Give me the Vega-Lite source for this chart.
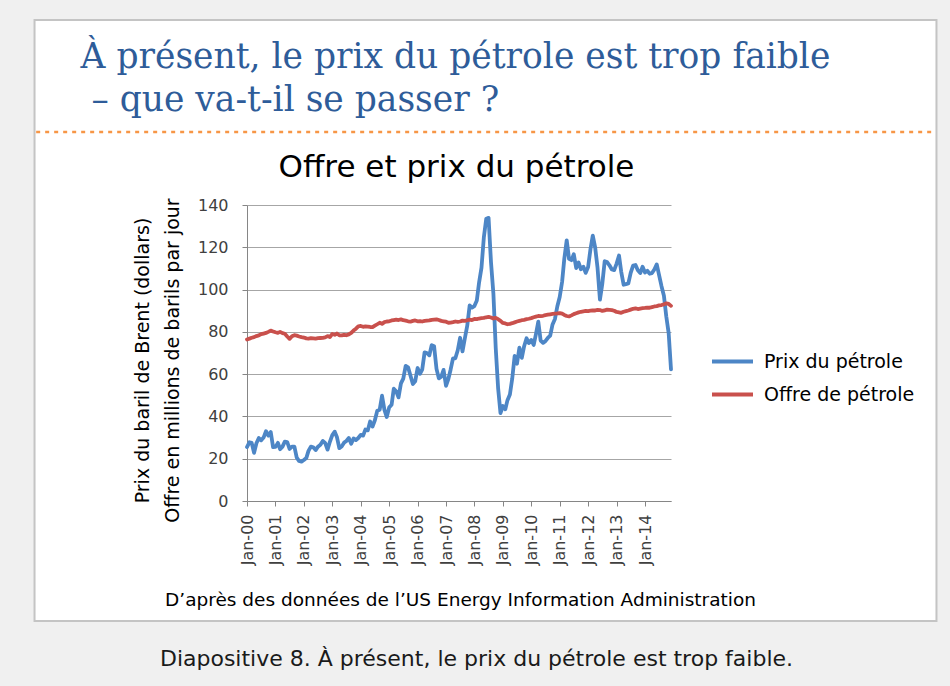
{
  "$schema": "https://vega.github.io/schema/vega-lite/v6.json",
  "width": 424,
  "height": 296,
  "autosize": {"type": "none"},
  "padding": {"left": 247, "top": 205, "right": 279, "bottom": 185},
  "background": "white",
  "config": {
    "view": {"stroke": null},
    "font": "DejaVu Sans",
    "legend": {
      "orient": "none",
      "legendX": 463,
      "legendY": 134,
      "title": null,
      "labelFont": "DejaVu Sans",
      "labelFontSize": 19,
      "labelColor": "#000000",
      "symbolType": "stroke",
      "symbolStrokeWidth": 4,
      "symbolSize": 1681,
      "labelOffset": 9,
      "rowPadding": 0,
      "labelLimit": 400
    }
  },
  "data": {
    "values": [
      {"d": "2000-01", "p": 25.5, "o": 76.4}, {"d": "2000-02", "p": 27.8, "o": 76.8}, {"d": "2000-03", "p": 27.5, "o": 77.2}, {"d": "2000-04", "p": 22.8, "o": 77.5}, {"d": "2000-05", "p": 27.3, "o": 78.0}, {"d": "2000-06", "p": 29.8, "o": 78.3}, {"d": "2000-07", "p": 28.7, "o": 78.9}, {"d": "2000-08", "p": 30.0, "o": 79.2}, {"d": "2000-09", "p": 33.0, "o": 79.5}, {"d": "2000-10", "p": 30.9, "o": 80.0}, {"d": "2000-11", "p": 32.6, "o": 80.6}, {"d": "2000-12", "p": 25.5, "o": 80.2},
      {"d": "2001-01", "p": 25.6, "o": 79.8}, {"d": "2001-02", "p": 27.5, "o": 79.5}, {"d": "2001-03", "p": 24.5, "o": 80.0}, {"d": "2001-04", "p": 25.7, "o": 79.4}, {"d": "2001-05", "p": 28.1, "o": 79.1}, {"d": "2001-06", "p": 27.9, "o": 77.8}, {"d": "2001-07", "p": 24.6, "o": 76.7}, {"d": "2001-08", "p": 25.7, "o": 77.9}, {"d": "2001-09", "p": 25.7, "o": 78.4}, {"d": "2001-10", "p": 20.5, "o": 78.2}, {"d": "2001-11", "p": 18.9, "o": 77.8}, {"d": "2001-12", "p": 18.6, "o": 77.5},
      {"d": "2002-01", "p": 19.4, "o": 77.3}, {"d": "2002-02", "p": 20.3, "o": 76.9}, {"d": "2002-03", "p": 23.7, "o": 76.8}, {"d": "2002-04", "p": 25.7, "o": 77.0}, {"d": "2002-05", "p": 25.4, "o": 76.9}, {"d": "2002-06", "p": 24.1, "o": 76.8}, {"d": "2002-07", "p": 25.7, "o": 77.0}, {"d": "2002-08", "p": 26.6, "o": 77.1}, {"d": "2002-09", "p": 28.4, "o": 77.2}, {"d": "2002-10", "p": 27.5, "o": 77.4}, {"d": "2002-11", "p": 24.3, "o": 78.0}, {"d": "2002-12", "p": 28.0, "o": 77.5},
      {"d": "2003-01", "p": 31.2, "o": 79.0}, {"d": "2003-02", "p": 32.8, "o": 78.6}, {"d": "2003-03", "p": 30.3, "o": 79.2}, {"d": "2003-04", "p": 25.0, "o": 78.4}, {"d": "2003-05", "p": 25.8, "o": 78.3}, {"d": "2003-06", "p": 27.6, "o": 78.6}, {"d": "2003-07", "p": 28.4, "o": 78.4}, {"d": "2003-08", "p": 29.8, "o": 78.8}, {"d": "2003-09", "p": 27.1, "o": 79.5}, {"d": "2003-10", "p": 29.6, "o": 80.6}, {"d": "2003-11", "p": 28.8, "o": 81.5}, {"d": "2003-12", "p": 29.8, "o": 82.6},
      {"d": "2004-01", "p": 31.3, "o": 82.8}, {"d": "2004-02", "p": 30.9, "o": 82.4}, {"d": "2004-03", "p": 33.8, "o": 82.6}, {"d": "2004-04", "p": 33.4, "o": 82.5}, {"d": "2004-05", "p": 37.6, "o": 82.3}, {"d": "2004-06", "p": 35.2, "o": 82.2}, {"d": "2004-07", "p": 38.2, "o": 82.9}, {"d": "2004-08", "p": 42.7, "o": 83.6}, {"d": "2004-09", "p": 43.2, "o": 84.3}, {"d": "2004-10", "p": 49.8, "o": 83.8}, {"d": "2004-11", "p": 43.1, "o": 84.6}, {"d": "2004-12", "p": 39.7, "o": 84.9},
      {"d": "2005-01", "p": 44.3, "o": 85.0}, {"d": "2005-02", "p": 45.5, "o": 85.4}, {"d": "2005-03", "p": 53.1, "o": 85.6}, {"d": "2005-04", "p": 51.9, "o": 85.8}, {"d": "2005-05", "p": 49.0, "o": 85.6}, {"d": "2005-06", "p": 55.6, "o": 85.9}, {"d": "2005-07", "p": 57.9, "o": 85.5}, {"d": "2005-08", "p": 63.9, "o": 85.3}, {"d": "2005-09", "p": 63.2, "o": 85.0}, {"d": "2005-10", "p": 59.4, "o": 84.8}, {"d": "2005-11", "p": 55.3, "o": 85.2}, {"d": "2005-12", "p": 56.6, "o": 85.4},
      {"d": "2006-01", "p": 62.9, "o": 85.0}, {"d": "2006-02", "p": 60.2, "o": 85.1}, {"d": "2006-03", "p": 62.1, "o": 84.9}, {"d": "2006-04", "p": 70.3, "o": 85.2}, {"d": "2006-05", "p": 70.0, "o": 85.3}, {"d": "2006-06", "p": 68.9, "o": 85.4}, {"d": "2006-07", "p": 73.7, "o": 85.7}, {"d": "2006-08", "p": 73.2, "o": 85.8}, {"d": "2006-09", "p": 62.5, "o": 85.9}, {"d": "2006-10", "p": 58.0, "o": 85.6}, {"d": "2006-11", "p": 58.8, "o": 85.2}, {"d": "2006-12", "p": 62.0, "o": 85.0},
      {"d": "2007-01", "p": 54.5, "o": 84.8}, {"d": "2007-02", "p": 57.8, "o": 84.3}, {"d": "2007-03", "p": 62.1, "o": 84.4}, {"d": "2007-04", "p": 67.5, "o": 84.6}, {"d": "2007-05", "p": 67.5, "o": 84.9}, {"d": "2007-06", "p": 71.3, "o": 84.7}, {"d": "2007-07", "p": 77.2, "o": 84.9}, {"d": "2007-08", "p": 70.8, "o": 85.3}, {"d": "2007-09", "p": 77.1, "o": 85.2}, {"d": "2007-10", "p": 82.9, "o": 85.5}, {"d": "2007-11", "p": 92.5, "o": 85.8}, {"d": "2007-12", "p": 91.5, "o": 85.6},
      {"d": "2008-01", "p": 92.2, "o": 86.1}, {"d": "2008-02", "p": 94.8, "o": 86.0}, {"d": "2008-03", "p": 103.3, "o": 86.3}, {"d": "2008-04", "p": 110.4, "o": 86.5}, {"d": "2008-05", "p": 124.6, "o": 86.6}, {"d": "2008-06", "p": 133.5, "o": 86.9}, {"d": "2008-07", "p": 133.9, "o": 87.1}, {"d": "2008-08", "p": 113.0, "o": 86.8}, {"d": "2008-09", "p": 98.1, "o": 86.3}, {"d": "2008-10", "p": 72.3, "o": 86.6}, {"d": "2008-11", "p": 53.2, "o": 86.0}, {"d": "2008-12", "p": 41.6, "o": 85.2},
      {"d": "2009-01", "p": 44.9, "o": 84.2}, {"d": "2009-02", "p": 43.4, "o": 84.0}, {"d": "2009-03", "p": 47.7, "o": 83.6}, {"d": "2009-04", "p": 50.4, "o": 83.8}, {"d": "2009-05", "p": 57.9, "o": 84.1}, {"d": "2009-06", "p": 68.6, "o": 84.5}, {"d": "2009-07", "p": 64.9, "o": 84.9}, {"d": "2009-08", "p": 72.5, "o": 85.2}, {"d": "2009-09", "p": 67.7, "o": 85.5}, {"d": "2009-10", "p": 73.2, "o": 85.7}, {"d": "2009-11", "p": 77.0, "o": 86.0}, {"d": "2009-12", "p": 74.7, "o": 86.2},
      {"d": "2010-01", "p": 76.2, "o": 86.5}, {"d": "2010-02", "p": 73.8, "o": 86.9}, {"d": "2010-03", "p": 78.8, "o": 87.2}, {"d": "2010-04", "p": 84.8, "o": 87.5}, {"d": "2010-05", "p": 75.9, "o": 87.4}, {"d": "2010-06", "p": 74.8, "o": 87.6}, {"d": "2010-07", "p": 75.6, "o": 87.9}, {"d": "2010-08", "p": 77.1, "o": 88.1}, {"d": "2010-09", "p": 78.2, "o": 88.3}, {"d": "2010-10", "p": 83.5, "o": 88.5}, {"d": "2010-11", "p": 86.1, "o": 88.6}, {"d": "2010-12", "p": 92.0, "o": 88.7},
      {"d": "2011-01", "p": 96.5, "o": 88.9}, {"d": "2011-02", "p": 103.7, "o": 88.6}, {"d": "2011-03", "p": 114.6, "o": 88.0}, {"d": "2011-04", "p": 123.3, "o": 87.5}, {"d": "2011-05", "p": 114.5, "o": 87.3}, {"d": "2011-06", "p": 113.9, "o": 87.8}, {"d": "2011-07", "p": 116.7, "o": 88.4}, {"d": "2011-08", "p": 110.2, "o": 88.8}, {"d": "2011-09", "p": 112.8, "o": 89.2}, {"d": "2011-10", "p": 109.6, "o": 89.5}, {"d": "2011-11", "p": 110.8, "o": 89.7}, {"d": "2011-12", "p": 107.9, "o": 89.9},
      {"d": "2012-01", "p": 110.7, "o": 89.8}, {"d": "2012-02", "p": 119.3, "o": 90.0}, {"d": "2012-03", "p": 125.5, "o": 90.2}, {"d": "2012-04", "p": 119.8, "o": 90.1}, {"d": "2012-05", "p": 110.3, "o": 90.4}, {"d": "2012-06", "p": 95.2, "o": 90.3}, {"d": "2012-07", "p": 102.6, "o": 89.9}, {"d": "2012-08", "p": 113.4, "o": 90.2}, {"d": "2012-09", "p": 113.0, "o": 90.5}, {"d": "2012-10", "p": 111.5, "o": 90.4}, {"d": "2012-11", "p": 109.5, "o": 90.3}, {"d": "2012-12", "p": 109.2, "o": 90.0},
      {"d": "2013-01", "p": 112.3, "o": 89.4}, {"d": "2013-02", "p": 116.1, "o": 89.2}, {"d": "2013-03", "p": 108.5, "o": 89.0}, {"d": "2013-04", "p": 102.3, "o": 89.5}, {"d": "2013-05", "p": 102.6, "o": 89.8}, {"d": "2013-06", "p": 102.9, "o": 90.1}, {"d": "2013-07", "p": 107.9, "o": 90.5}, {"d": "2013-08", "p": 111.3, "o": 90.9}, {"d": "2013-09", "p": 111.6, "o": 91.1}, {"d": "2013-10", "p": 109.1, "o": 90.8}, {"d": "2013-11", "p": 107.8, "o": 91.0}, {"d": "2013-12", "p": 110.8, "o": 91.2},
      {"d": "2014-01", "p": 108.1, "o": 91.3}, {"d": "2014-02", "p": 108.9, "o": 91.5}, {"d": "2014-03", "p": 107.5, "o": 91.4}, {"d": "2014-04", "p": 107.8, "o": 91.7}, {"d": "2014-05", "p": 109.5, "o": 92.0}, {"d": "2014-06", "p": 111.9, "o": 92.2}, {"d": "2014-07", "p": 106.8, "o": 92.5}, {"d": "2014-08", "p": 101.6, "o": 92.7}, {"d": "2014-09", "p": 97.1, "o": 93.0}, {"d": "2014-10", "p": 87.4, "o": 93.5}, {"d": "2014-11", "p": 79.4, "o": 93.2}, {"d": "2014-12", "p": 62.3, "o": 92.3}
    ]
  },
  "layer": [
    {
      "data": {"values": [{}]},
      "mark": {"type": "rect", "filled": false, "stroke": "#f0f0f0", "strokeWidth": 200},
      "encoding": {
        "x": {"datum": {"year": 1989, "month": 1, "date": 3, "utc": true}, "type": "temporal", "scale": {"type": "utc", "domain": [{"year": 2000, "month": 1, "date": 1, "utc": true}, {"year": 2014, "month": 12, "date": 1, "utc": true}], "nice": false}, "axis": null},
        "x2": {"datum": {"year": 2027, "month": 10, "date": 10, "utc": true}},
        "y": {"datum": 274.8, "type": "quantitative", "scale": {"domain": [0, 140], "nice": false}, "axis": null},
        "y2": {"datum": -104}
      }
    },
    {
      "data": {"values": [{}]},
      "mark": {"type": "rect", "filled": false, "stroke": "#c4c4c4", "strokeWidth": 2},
      "encoding": {
        "x": {"datum": {"year": 1992, "month": 7, "date": 11, "utc": true}, "type": "temporal", "scale": {"type": "utc", "domain": [{"year": 2000, "month": 1, "date": 1, "utc": true}, {"year": 2014, "month": 12, "date": 1, "utc": true}], "nice": false}, "axis": null},
        "x2": {"datum": {"year": 2024, "month": 4, "date": 3, "utc": true}},
        "y": {"datum": 227.5, "type": "quantitative", "scale": {"domain": [0, 140], "nice": false}, "axis": null},
        "y2": {"datum": -56.8}
      }
    },
    {
      "data": {"values": [{}]},
      "mark": {"type": "rule", "stroke": "#F79646", "strokeWidth": 2.5, "strokeDash": [4, 5]},
      "encoding": {
        "x": {"datum": {"year": 1992, "month": 8, "date": 1, "utc": true}, "type": "temporal", "scale": {"type": "utc", "domain": [{"year": 2000, "month": 1, "date": 1, "utc": true}, {"year": 2014, "month": 12, "date": 1, "utc": true}], "nice": false}, "axis": null},
        "x2": {"datum": {"year": 2024, "month": 3, "date": 20, "utc": true}},
        "y": {"datum": 174.5, "type": "quantitative", "scale": {"domain": [0, 140], "nice": false}, "axis": null}
      }
    },
    {
      "mark": {"type": "line", "strokeWidth": 3.8, "strokeJoin": "round", "strokeCap": "round"},
      "encoding": {
        "x": {
          "field": "d", "type": "temporal",
          "scale": {"type": "utc", "domain": [{"year": 2000, "month": 1, "date": 1, "utc": true}, {"year": 2014, "month": 12, "date": 1, "utc": true}], "nice": false},
          "axis": {
            "orient": "bottom", "grid": false,
            "tickCount": {"interval": "year", "step": 1},
            "format": "%b-%y",
            "labelAngle": 270, "labelFlush": false, "labelOverlap": false,
            "labelFont": "DejaVu Sans", "labelFontSize": 16, "labelColor": "#404040", "labelPadding": 8,
            "tickSize": 5, "tickColor": "#868686", "domainColor": "#868686", "domainWidth": 1,
            "title": "D’après des données de l’US Energy Information Administration",
            "titleFont": "DejaVu Sans", "titleFontSize": 18.5, "titleFontWeight": "normal", "titleColor": "#000000",
            "titleX": 213, "titleY": 104, "titleBaseline": "alphabetic", "titleAlign": "center", "titleLimit": 2000
          }
        },
        "y": {
          "field": "p", "type": "quantitative",
          "scale": {"domain": [0, 140], "nice": false},
          "axis": {
            "orient": "left",
            "values": [0, 20, 40, 60, 80, 100, 120, 140],
            "grid": true, "gridColor": "#a6a6a6", "gridWidth": 1,
            "domainColor": "#868686", "tickColor": "#868686", "tickSize": 5,
            "labelFont": "DejaVu Sans", "labelFontSize": 16, "labelColor": "#404040", "labelPadding": 14,
            "title": ["Prix du baril de Brent (dollars)", "Offre en millions de barils par jour"],
            "titleFont": "DejaVu Sans", "titleFontSize": 19, "titleFontWeight": "normal", "titleColor": "#000000",
            "titleAngle": 270, "titleX": -99, "titleY": 155, "titleBaseline": "alphabetic", "titleAlign": "center",
            "titleLineHeight": 30, "titleLimit": 2000
          }
        },
        "color": {
          "datum": "Prix du pétrole",
          "type": "nominal",
          "scale": {"domain": ["Prix du pétrole", "Offre de pétrole"], "range": ["#4D86C6", "#C9504C"]}
        }
      }
    },
    {
      "mark": {"type": "line", "strokeWidth": 3.8, "strokeJoin": "round", "strokeCap": "round"},
      "encoding": {
        "x": {"field": "d", "type": "temporal", "scale": {"type": "utc", "domain": [{"year": 2000, "month": 1, "date": 1, "utc": true}, {"year": 2014, "month": 12, "date": 1, "utc": true}], "nice": false}, "axis": null},
        "y": {"field": "o", "type": "quantitative", "scale": {"domain": [0, 140], "nice": false}, "axis": null},
        "color": {"datum": "Offre de pétrole", "type": "nominal"}
      }
    },
    {
      "data": {"values": [{}]},
      "mark": {"type": "point", "opacity": 0},
      "encoding": {
        "x": {
          "datum": {"year": 2005, "month": 1, "date": 1, "utc": true}, "type": "temporal",
          "scale": {"type": "utc", "domain": [{"year": 2000, "month": 1, "date": 1, "utc": true}, {"year": 2014, "month": 12, "date": 1, "utc": true}], "nice": false},
          "axis": {
            "orient": "top", "labels": false, "ticks": false, "domain": false, "grid": false,
            "title": "Offre et prix du pétrole",
            "titleFont": "DejaVu Sans", "titleFontSize": 31, "titleFontWeight": "normal", "titleColor": "#000000",
            "titleX": 209, "titleY": -29, "titleBaseline": "alphabetic", "titleAlign": "center", "titleLimit": 2000
          }
        },
        "y": {
          "datum": 50, "type": "quantitative",
          "scale": {"domain": [0, 140], "nice": false},
          "axis": {
            "orient": "left", "labels": false, "ticks": false, "domain": false, "grid": false,
            "title": ["À présent, le prix du pétrole est trop faible", "\u200b\u00a0– que va-t-il se passer ?"],
            "titleFont": "DejaVu Serif", "titleFontSize": 34.5, "titleFontWeight": "normal", "titleColor": "#2E5C99",
            "titleAngle": 0, "titleX": -167, "titleY": -138, "titleBaseline": "alphabetic", "titleAlign": "left",
            "titleLineHeight": 43, "titleLimit": 2000
          }
        }
      }
    },
    {
      "data": {"values": [{}]},
      "mark": {"type": "point", "opacity": 0},
      "encoding": {
        "x": {
          "datum": {"year": 2005, "month": 1, "date": 1, "utc": true}, "type": "temporal",
          "scale": {"type": "utc", "domain": [{"year": 2000, "month": 1, "date": 1, "utc": true}, {"year": 2014, "month": 12, "date": 1, "utc": true}], "nice": false},
          "axis": {
            "orient": "bottom", "labels": false, "ticks": false, "domain": false, "grid": false, "zindex": 1,
            "title": "Diapositive 8. À présent, le prix du pétrole est trop faible.",
            "titleFont": "DejaVu Sans", "titleFontSize": 22, "titleFontWeight": "normal", "titleColor": "#1a1a1a",
            "titleX": 229, "titleY": 164, "titleBaseline": "alphabetic", "titleAlign": "center", "titleLimit": 2000
          }
        },
        "y": {"datum": 50, "type": "quantitative", "scale": {"domain": [0, 140], "nice": false}, "axis": null}
      }
    }
  ],
  "resolve": {"axis": {"x": "independent", "y": "independent"}}
}
